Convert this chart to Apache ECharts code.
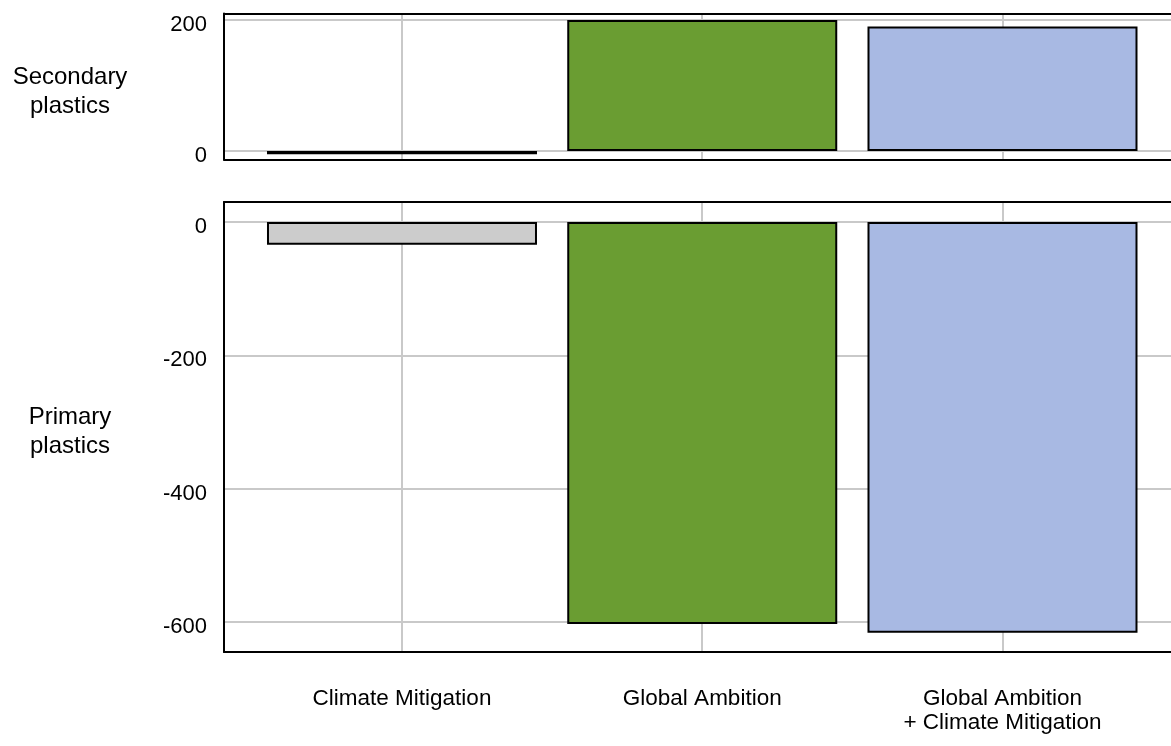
<!DOCTYPE html>
<html>
<head>
<meta charset="utf-8">
<script src="https://cdn.jsdelivr.net/npm/echarts@6/dist/echarts.min.js"></script>
<style>
html,body{margin:0;padding:0;background:#fff;}
#chart{width:1171px;height:746px;}
</style>
</head>
<body>
<div id="chart"></div>
<script>
// ---- data ----
const categories = ['Climate Mitigation', 'Global Ambition', 'Global Ambition\n+ Climate Mitigation'];
const secondaryValues = [-5, 200, 190];
const primaryValues = [-34, -603, -616];
const secondaryTicks = [0, 200];
const primaryTicks = [-600, -400, -200, 0];
const panelNames = ['Secondary\nplastics', 'Primary\nplastics'];

// ---- styles ----
const barColors = ['#cccccc', '#6a9d32', '#a8b9e3'];
const FONT = "'Liberation Sans Narrow', 'Arial Narrow', 'Liberation Sans', Arial, sans-serif";
const positions = categories.map((c, i) => i + 1);
const X_MIN = 0.4072, X_MAX = 3.5612;

function barData(values) {
  return values.map((v, i) => ({
    value: [positions[i], v],
    itemStyle: { color: barColors[i] }
  }));
}

const frameLine = { show: true, onZero: false, lineStyle: { color: '#000', width: 2 } };
const splitStyle = { show: true, lineStyle: { color: '#c9c9c9', width: 2 } };

const chart = echarts.init(document.getElementById('chart'), null, { renderer: 'canvas' });

function xAxisFor(gridIndex, withLabels) {
  return {
    type: 'value', gridIndex: gridIndex, position: 'bottom',
    min: X_MIN, max: X_MAX,
    axisLine: frameLine,
    axisTick: { show: false, customValues: positions },
    splitLine: splitStyle,
    axisLabel: withLabels ? {
      show: true, customValues: positions,
      formatter: v => categories[Math.round(v) - 1],
      color: '#000', fontFamily: FONT, fontSize: 22.5, lineHeight: 24,
      margin: 35, verticalAlign: 'top'
    } : { show: false }
  };
}
function xTopFrame(gridIndex) {
  return {
    type: 'value', gridIndex: gridIndex, position: 'top',
    min: X_MIN, max: X_MAX,
    axisLine: frameLine,
    axisTick: { show: false }, axisLabel: { show: false }, splitLine: { show: false }
  };
}

function yAxisFor(gridIndex, min, max, ticks) {
  return {
    type: 'value', gridIndex: gridIndex, min: min, max: max,
    axisLine: frameLine,
    axisTick: { show: false, customValues: ticks },
    splitLine: splitStyle,
    axisLabel: {
      customValues: ticks, color: '#000', fontFamily: FONT, fontSize: 22,
      margin: 17, verticalAlign: 'top', lineHeight: 10
    }
  };
}

const option = {
  animation: false,
  backgroundColor: '#fff',
  grid: [
    { left: 224, top: 13.5, right: 0, height: 146 },
    { left: 224, top: 202, right: 0, height: 450 }
  ],
  xAxis: [xAxisFor(0, false), xAxisFor(1, true), xTopFrame(0), xTopFrame(1)],
  yAxis: [
    yAxisFor(0, -13, 210, secondaryTicks),
    yAxisFor(1, -645, 30, primaryTicks)
  ],
  series: [
    {
      type: 'bar', xAxisIndex: 0, yAxisIndex: 0, barWidth: 270,
      itemStyle: { borderColor: '#000', borderWidth: 2 },
      data: barData(secondaryValues)
    },
    {
      type: 'bar', xAxisIndex: 1, yAxisIndex: 1, barWidth: 270,
      itemStyle: { borderColor: '#000', borderWidth: 2 },
      data: barData(primaryValues)
    }
  ],
  graphic: [
    { type: 'text', x: 70, y: 92, style: { text: panelNames[0], align: 'center', verticalAlign: 'middle', fontFamily: FONT, fontSize: 24, lineHeight: 29, fill: '#000' } },
    { type: 'text', x: 70, y: 432, style: { text: panelNames[1], align: 'center', verticalAlign: 'middle', fontFamily: FONT, fontSize: 24, lineHeight: 29, fill: '#000' } }
  ]
};
chart.setOption(option);
</script>
</body>
</html>
